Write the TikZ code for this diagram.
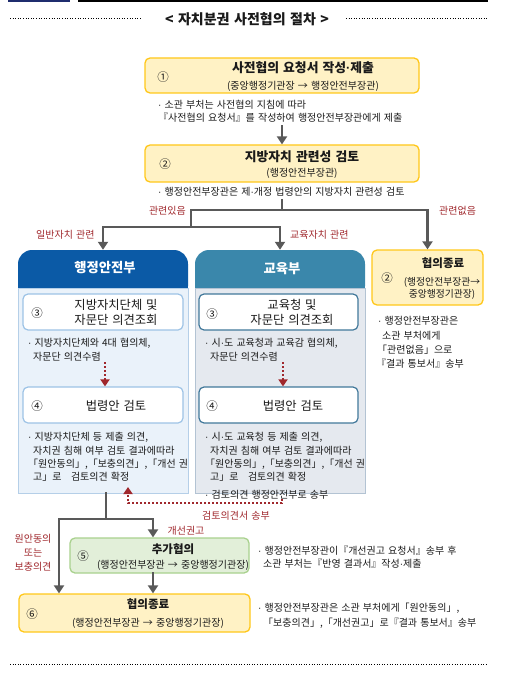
\documentclass[tikz,border=0pt]{standalone}
\usepackage{fontspec}
\setmainfont{Noto Sans CJK KR}[WordSpace=1.4]
\newfontfamily\ltn{Liberation Sans}
\newcommand\mdot{{\ltn ·}}
\usetikzlibrary{arrows.meta}
\definecolor{yfill}{HTML}{FFF2C5}
\definecolor{yline}{HTML}{FFC71A}
\definecolor{gfill}{HTML}{E2EFD9}
\definecolor{gline}{HTML}{A9D18E}
\definecolor{arrgray}{HTML}{595959}
\definecolor{redlbl}{HTML}{A0282D}
\definecolor{headL}{HTML}{0B5AA6}
\definecolor{headR}{HTML}{3A87AB}
\definecolor{bodyL}{HTML}{EAF2FA}
\definecolor{bodyR}{HTML}{E5E9EF}
\definecolor{borderL}{HTML}{B5CFE8}
\definecolor{borderR}{HTML}{B3C3D3}
\definecolor{wlineL}{HTML}{9DC3E6}
\definecolor{wlineR}{HTML}{41789A}
\definecolor{navybar}{HTML}{1F2D6E}
\definecolor{txtcol}{HTML}{1A1A1A}
\tikzset{
  ybox/.style={draw=yline, fill=yfill, line width=1.3pt, rounded corners=5pt},
  gbox/.style={draw=gline, fill=gfill, line width=1.3pt, rounded corners=5pt},
  wboxL/.style={draw=wlineL, fill=white, line width=1.2pt, rounded corners=5pt, minimum width=160pt, minimum height=36pt},
  wboxR/.style={draw=wlineR, fill=white, line width=1.2pt, rounded corners=5pt, minimum width=159pt, minimum height=36pt},
  txt/.style={anchor=base west, inner sep=0pt, font=\fontsize{10}{12}\selectfont, text=txtcol},
  rl/.style={inner sep=0pt, font=\fontsize{10}{12}\selectfont, text=redlbl},
  ttl/.style={inner sep=0pt, font=\fontsize{12.8}{14}\selectfont\bfseries, text=txtcol},
  subt/.style={inner sep=0pt, font=\fontsize{10}{12}\selectfont, text=txtcol},
  num/.style={inner sep=0pt, font=\fontsize{11.5}{13}\selectfont, text=txtcol},
  midt/.style={inner sep=0pt, font=\fontsize{12.3}{14}\selectfont, text=txtcol},
  btt/.style={inner sep=0pt, font=\fontsize{11.5}{13}\selectfont\bfseries, text=txtcol},
  garr/.style={draw=arrgray, line width=2.8pt, line cap=rect, -{Triangle[width=10pt,length=8pt]}},
  gseg/.style={draw=arrgray, line width=2.8pt, line cap=rect},
  rdarr/.style={draw=redlbl, line width=2.4pt, dash pattern=on 2.4pt off 1.6pt, -{Triangle[width=9pt,length=7pt]}},
}
\begin{document}
\begin{tikzpicture}[x=1pt,y=-1pt]
\useasboundingbox (0,0) rectangle (504,679);
% top bars and title
\fill[navybar] (8,0) rectangle (70,2);
\fill[black] (78,0) rectangle (488,2);
\draw[dotted, line width=0.6pt] (10,18) -- (142,18);
\draw[dotted, line width=0.6pt] (346,18) -- (488,18);
\node[inner sep=0pt, font=\fontsize{14}{16}\selectfont\bfseries, text=txtcol] (title) at (247,19) {<\ 자치분권 사전협의 절차\ >};
\draw[dotted, line width=0.6pt] (10,664) -- (488,664);

% box 1
\node[ybox, minimum width=274pt, minimum height=35pt] (box1) at (282,75.5) {};
\node[num] (n1) at (163,77) {①};
\node[ttl] (t1) at (303,68) {사전협의 요청서 작성\mdot 제출};
\node[subt] (s1) at (303,86) {(중앙행정기관장 → 행정안전부장관)};
\node[txt] (d1a) at (158,108.5) {\mdot\ 소관 부처는 사전협의 지침에 따라};
\node[txt] (d1b) at (158,121.5) {『사전협의 요청서』를 작성하여 행정안전부장관에게 제출};

% box 2
\node[ybox, minimum width=274pt, minimum height=37pt] (box2) at (282,163.5) {};
\node[num] (n2) at (165,164) {②};
\node[ttl] (t2) at (302,157) {지방자치 관련성 검토};
\node[subt] (s2) at (302,173) {(행정안전부장관)};
\node[txt] (d2) at (158,195.5) {\mdot\ 행정안전부장관은 제\mdot 개정 법령안의 지방자치 관련성 검토};
\coordinate (a1) at (282,126);
\draw[garr] (a1) -- (box2.north);

% panels
\node[fill=headL, rounded corners=14pt, minimum width=170pt, minimum height=50pt, inner sep=0pt] (mhead) at (103,275) {};
\node[fill=bodyL, draw=borderL, line width=1pt, minimum width=170pt, minimum height=205pt, inner sep=0pt] (mbody) at (103,390.5) {};
\node[inner sep=0pt, font=\fontsize{13.3}{15}\selectfont\bfseries, text=white] (mt) at (105,268) {행정안전부};
\node[fill=headR, rounded corners=14pt, minimum width=170pt, minimum height=50pt, inner sep=0pt] (ehead) at (280,275) {};
\node[fill=bodyR, draw=borderR, line width=1pt, minimum width=170pt, minimum height=205pt, inner sep=0pt] (ebody) at (280,390.5) {};
\node[inner sep=0pt, font=\fontsize{13.3}{15}\selectfont\bfseries, text=white] (et) at (282,269) {교육부};

% end box (relation none)
\node[ybox, minimum width=111pt, minimum height=55pt] (end2) at (427.5,277.5) {};
\node[num] (n2b) at (387,278) {②};
\node[btt] (te) at (443,263) {협의종료};
\node[inner sep=0pt, font=\fontsize{9.8}{11}\selectfont, text=txtcol] (se1) at (442,282) {(행정안전부장관→};
\node[inner sep=0pt, font=\fontsize{9.8}{11}\selectfont, text=txtcol] (se2) at (442,294) {중앙행정기관장)};
\node[txt] (de1) at (378,324.5) {\mdot\ 행정안전부장관은};
\node[txt] (de2) at (382,339.5) {소관 부처에게};
\node[txt] (de3) at (377,353.5) {「관련없음」으로};
\node[txt] (de4) at (376,367.5) {『결과 통보서』송부};

% tree connectors
\coordinate (tr0) at (282,200);
\coordinate (tr1) at (282,210);
\coordinate (tl) at (191,227);
\draw[gseg] (tr0) -- (tr1) -| (tl);
\draw[garr] (tl) -| (mhead.north);
\draw[garr] (tl) -| (ehead.north);
\draw[garr] (tr1) -| (end2.north);
\node[rl, anchor=east] (lyes) at (186,211) {관련있음};
\node[rl, anchor=west] (lno) at (439,211) {관련없음};
\node[rl, anchor=west] (lgen) at (36,235) {일반자치 관련};
\node[rl, anchor=west] (ledu) at (290,235) {교육자치 관련};

% step 3 boxes
\node[wboxL] (b3l) at (103,312) {};
\node[num] (n3l) at (37,313) {③};
\node[midt] (t3la) at (116,305) {지방자치단체 및};
\node[midt] (t3lb) at (116,320) {자문단 의견조회};
\node[wboxR] (b3r) at (278.5,312) {};
\node[num] (n3r) at (212,314) {③};
\node[midt] (t3ra) at (292,305) {교육청 및};
\node[midt] (t3rb) at (292,320) {자문단 의견조회};

\node[txt] (d3la) at (28,346.5) {\mdot\ 지방자치단체와 4대 협의체,};
\node[txt] (d3lb) at (33,360.5) {자문단 의견수렴};
\node[txt] (d3ra) at (205,346.5) {\mdot\ 시\mdot 도 교육청과 교육감 협의체,};
\node[txt] (d3rb) at (210,360.5) {자문단 의견수렴};

% step 4 boxes
\node[wboxL] (b4l) at (103,405) {};
\node[num] (n4l) at (37,406) {④};
\node[midt] (t4l) at (116,406) {법령안 검토};
\node[wboxR] (b4r) at (278.5,405) {};
\node[num] (n4r) at (212,406) {④};
\node[midt] (t4r) at (293,406) {법령안 검토};

\coordinate (rd1) at (105,362);
\coordinate (rd2) at (283,362);
\draw[rdarr] (rd1) -- (rd1 |- b4l.north);
\draw[rdarr] (rd2) -- (rd2 |- b4r.north);

\node[txt] (d4la) at (28,440.5) {\mdot\ 지방자치단체 등 제출 의견,};
\node[txt] (d4lb) at (33,454.5) {자치권 침해 여부 검토 결과에따라};
\node[txt] (d4lc) at (28,467.5) {「원안동의」,「보충의견」,「개선 권};
\node[txt] (d4ld) at (33,480.5) {고」로 \ \ 검토의견 확정};
\node[txt] (d4ra) at (205,440.5) {\mdot\ 시\mdot 도 교육청 등 제출 의견,};
\node[txt] (d4rb) at (210,454.5) {자치권 침해 여부 검토 결과에따라};
\node[txt] (d4rc) at (205,467.5) {「원안동의」,「보충의견」,「개선 권};
\node[txt] (d4rd) at (210,480.5) {고」로 \ \ 검토의견 확정};

% feedback arrow
\coordinate (fb) at (282,499);
\coordinate (fbc) at (128,503);
\coordinate (fbt) at (128,487);
\draw[rdarr] (fb) |- (fbc) -- (fbt);
\node[txt] (d4re) at (205,498.5) {\mdot\ 검토의견 행정안전부로 송부};
\node[rl] (lfb) at (236,516) {검토의견서 송부};

% step 5 / 6
\node[gbox, minimum width=179pt, minimum height=35pt] (box5) at (159.5,555.5) {};
\node[num] (n5) at (83,556) {⑤};
\node[btt] (t5) at (173,549) {추가협의};
\node[subt] (s5) at (173,565) {(행정안전부장관 → 중앙행정기관장)};
\node[ybox, minimum width=231pt, minimum height=38pt] (box6) at (134.5,613) {};
\node[num] (n6) at (32,614) {⑥};
\node[btt] (t6) at (148,604) {협의종료};
\node[subt] (s6) at (148,623) {(행정안전부장관 → 중앙행정기관장)};

\coordinate (sp) at (106,519);
\coordinate (spl) at (59,519);
\coordinate (spr) at (153,519);
\draw[gseg] (mbody.south -| sp) -- (sp);
\draw[garr] (sp) -| (spl |- box6.north);
\draw[garr] (sp) -| (spr |- box5.north);
\draw[garr] (box5.south -| spr) -- (box6.north -| spr);

\node[rl] (lw1) at (33,539) {원안동의};
\node[rl] (lw2) at (33,553) {또는};
\node[rl] (lw3) at (33,567) {보충의견};
\node[rl] (lgs) at (186,531) {개선권고};

\node[txt] (d5a) at (258,554.5) {\mdot\ 행정안전부장관이『개선권고 요청서』송부 후};
\node[txt] (d5b) at (263,567.5) {소관 부처는『반영 결과서』작성\mdot 제출};
\node[txt] (d6a) at (258,611.5) {\mdot\ 행정안전부장관은 소관 부처에게「원안동의」,};
\node[txt] (d6b) at (263,626.5) {「보충의견」,「개선권고」로『결과 통보서』송부};
\end{tikzpicture}
\end{document}
